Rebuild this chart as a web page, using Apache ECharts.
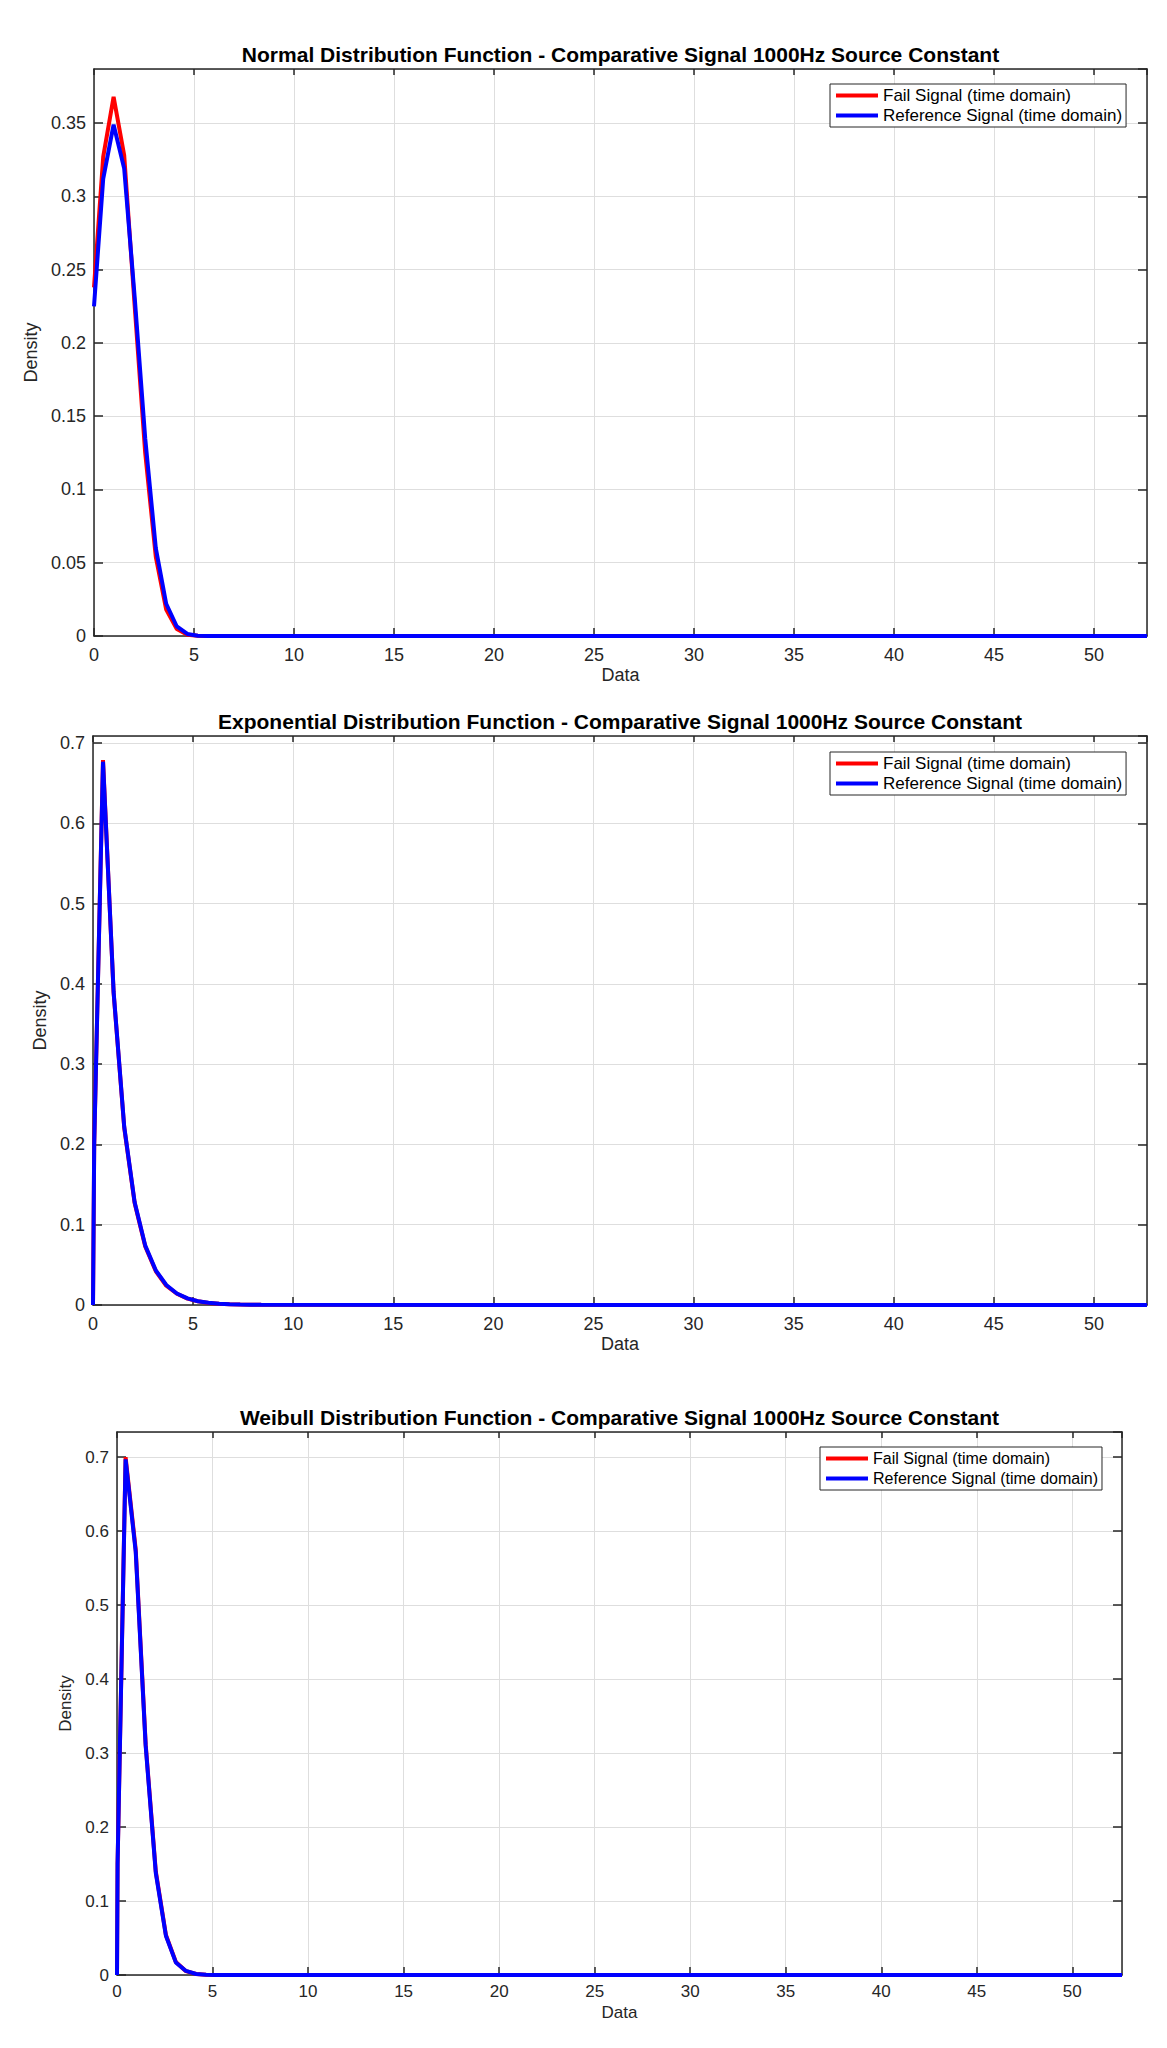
<!DOCTYPE html>
<html>
<head>
<meta charset="utf-8">
<title>Distribution Functions - Comparative Signal 1000Hz</title>
<script src="https://cdn.jsdelivr.net/npm/echarts@6/dist/echarts.min.js"></script>
<style>
    html, body { margin: 0; padding: 0; background: #fff; }
    #main { width: 1167px; height: 2048px; }
</style>
</head>
<body>
<div id="main"></div>
<script>
// series names
const failName = 'Fail Signal (time domain)';
const refName = 'Reference Signal (time domain)';

// normal distribution
const normX = [0, 0.46, 0.98, 1.51, 2.03, 2.56, 3.09, 3.61, 4.14, 4.67, 5.19, 5.72, 52.65];
const normFail = [0.238, 0.327, 0.368, 0.328, 0.226, 0.125, 0.054, 0.018, 0.0048, 0.0009, 0.0001, 0, 0];
const normRef = [0.225, 0.312, 0.349, 0.319, 0.232, 0.135, 0.06, 0.022, 0.0065, 0.0014, 0.0002, 0, 0];

// exponential distribution
const expX = [0, 0.06, 0.5, 1.03, 1.56, 2.08, 2.61, 3.14, 3.66, 4.19, 4.72, 5.24, 5.77, 6.3, 6.82, 7.35, 7.88, 8.4, 52.65];
const expFail = [0, 0.2, 0.679, 0.389, 0.221, 0.127, 0.073, 0.042, 0.024, 0.014, 0.008, 0.0046, 0.0026, 0.0015, 0.0009, 0.0005, 0.0003, 0.0002, 0];
const expRef = [0, 0.2, 0.677, 0.39, 0.222, 0.128, 0.074, 0.043, 0.025, 0.0143, 0.0082, 0.0047, 0.0027, 0.0015, 0.0009, 0.0005, 0.0003, 0.0002, 0];

// weibull distribution
const wblX = [0, 0.03, 0.45, 0.98, 1.5, 2.03, 2.56, 3.08, 3.61, 4.14, 4.66, 5.19, 52.6];
const wblFail = [0, 0.15, 0.70, 0.575, 0.312, 0.14, 0.054, 0.0175, 0.0052, 0.0013, 0.0003, 0, 0];
const wblRef = [0, 0.15, 0.697, 0.572, 0.31, 0.138, 0.053, 0.017, 0.0055, 0.0014, 0.0003, 0, 0];

// tick labels
const xTicks = [0, 5, 10, 15, 20, 25, 30, 35, 40, 45, 50];
const yTicksNorm = [0, 0.05, 0.1, 0.15, 0.2, 0.25, 0.3, 0.35];
const yTicksExp = [0, 0.1, 0.2, 0.3, 0.4, 0.5, 0.6, 0.7];
const yTicksWbl = [0, 0.1, 0.2, 0.3, 0.4, 0.5, 0.6, 0.7];

const titles = [
    'Normal Distribution Function - Comparative Signal 1000Hz Source Constant',
    'Exponential Distribution Function - Comparative Signal 1000Hz Source Constant',
    'Weibull Distribution Function - Comparative Signal 1000Hz Source Constant'
];

const font = "'Liberation Sans', Arial, Helvetica, sans-serif";
const axisColor = '#262626';

// layout of the three panels
const panels = [
    { x: normX, fail: normFail, ref: normRef, yTicks: yTicksNorm, xMax: 52.65, yMax: 0.387,
      grid: { left: 94, top: 69, width: 1053, height: 567 }, titleTop: 44,
      legend: { left: 830, top: 84 }, fs: 18, lfs: 17, yGap: 40, xGap: 30, lblMargin: 10 },
    { x: expX, fail: expFail, ref: expRef, yTicks: yTicksExp, xMax: 52.65, yMax: 0.709,
      grid: { left: 93, top: 736, width: 1054, height: 569 }, titleTop: 711,
      legend: { left: 830, top: 752 }, fs: 18, lfs: 17, yGap: 40, xGap: 30, lblMargin: 10 },
    { x: wblX, fail: wblFail, ref: wblRef, yTicks: yTicksWbl, xMax: 52.6, yMax: 0.734,
      grid: { left: 117, top: 1432, width: 1005, height: 543 }, titleTop: 1407,
      legend: { left: 820, top: 1447 }, fs: 17, lfs: 16, yGap: 42, xGap: 29, lblMargin: 8 }
];

function zip(xs, ys) {
    return xs.map(function (x, i) { return [x, ys[i]]; });
}

let option = {
    backgroundColor: '#fff',
    animation: false,
    textStyle: { fontFamily: font },
    title: [],
    legend: [],
    grid: [],
    xAxis: [],
    yAxis: [],
    series: []
};

panels.forEach(function (p, k) {
    const g = p.grid;
    option.grid.push(Object.assign({ containLabel: false }, g));

    option.title.push({
        text: titles[k],
        left: g.left + g.width / 2,
        top: p.titleTop,
        textAlign: 'center',
        padding: 0,
        textStyle: { fontFamily: font, fontSize: 21, fontWeight: 'bold', color: '#000' }
    });

    option.legend.push({
        data: [failName, refName],
        orient: 'vertical',
        left: p.legend.left,
        top: p.legend.top,
        padding: [2, 4, 2, 6],
        itemGap: 1,
        itemWidth: 42,
        itemHeight: 4,
        icon: 'rect',
        backgroundColor: '#fff',
        borderColor: axisColor,
        borderWidth: 1,
        borderRadius: 0,
        textStyle: { fontFamily: font, fontSize: p.lfs, color: '#000', lineHeight: 19 }
    });

    const step = xTicks[1] - xTicks[0];
    const yStep = p.yTicks[1] - p.yTicks[0];

    // bottom and left axes carry the labels and grid lines
    option.xAxis.push({
        type: 'value', gridIndex: k, position: 'bottom',
        min: xTicks[0], max: p.xMax, interval: step,
        name: 'Data', nameLocation: 'middle', nameGap: p.xGap,
        nameTextStyle: { fontFamily: font, fontSize: p.fs, color: axisColor },
        axisLine: { onZero: false, lineStyle: { color: axisColor, width: 1.5 } },
        axisTick: { inside: true, length: 8, lineStyle: { color: axisColor, width: 1.5 } },
        axisLabel: { showMaxLabel: false, margin: p.lblMargin, fontFamily: font, fontSize: p.fs, color: axisColor },
        splitLine: { show: true, lineStyle: { color: '#dedede', width: 1 } }
    });
    // mirrored top axis
    option.xAxis.push({
        type: 'value', gridIndex: k, position: 'top',
        min: xTicks[0], max: p.xMax, interval: step,
        axisLine: { onZero: false, lineStyle: { color: axisColor, width: 1.5 } },
        axisTick: { inside: true, length: 6, lineStyle: { color: axisColor, width: 1.5 } },
        axisLabel: { show: false },
        splitLine: { show: false }
    });

    option.yAxis.push({
        type: 'value', gridIndex: k, position: 'left',
        min: p.yTicks[0], max: p.yMax, interval: yStep,
        name: 'Density', nameLocation: 'middle', nameGap: p.yGap,
        nameTextStyle: { fontFamily: font, fontSize: p.fs, color: axisColor },
        axisLine: { onZero: false, lineStyle: { color: axisColor, width: 1.5 } },
        axisTick: { inside: true, length: 9, lineStyle: { color: axisColor, width: 1.5 } },
        axisLabel: { showMaxLabel: false, margin: 8, fontFamily: font, fontSize: p.fs, color: axisColor },
        splitLine: { show: true, lineStyle: { color: '#dedede', width: 1 } }
    });
    // mirrored right axis
    option.yAxis.push({
        type: 'value', gridIndex: k, position: 'right',
        min: p.yTicks[0], max: p.yMax, interval: yStep,
        axisLine: { onZero: false, lineStyle: { color: axisColor, width: 1.5 } },
        axisTick: { inside: true, length: 9, lineStyle: { color: axisColor, width: 1.5 } },
        axisLabel: { show: false },
        splitLine: { show: false }
    });

    option.series.push({
        name: failName, type: 'line',
        xAxisIndex: 2 * k, yAxisIndex: 2 * k,
        symbol: 'none', color: '#ff0000',
        lineStyle: { width: 4, color: '#ff0000' },
        data: zip(p.x, p.fail)
    });
    option.series.push({
        name: refName, type: 'line',
        xAxisIndex: 2 * k, yAxisIndex: 2 * k,
        symbol: 'none', color: '#0000ff',
        lineStyle: { width: 4, color: '#0000ff' },
        data: zip(p.x, p.ref)
    });
});

var myChart = echarts.init(document.getElementById('main'), null, { renderer: 'svg' });
myChart.setOption(option);
</script>
</body>
</html>
